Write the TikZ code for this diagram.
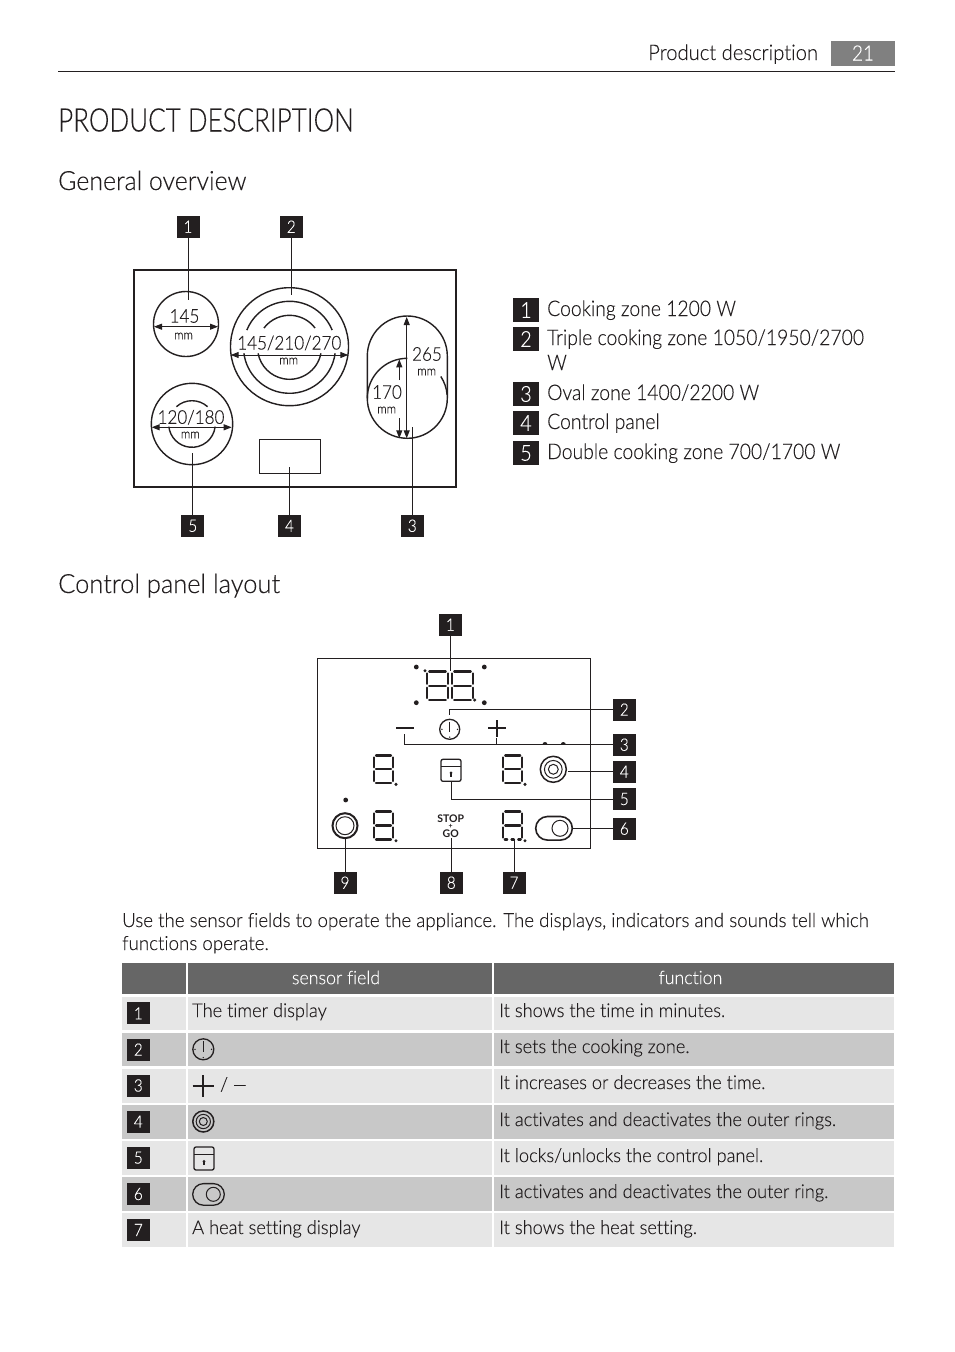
\documentclass[tikz,border=0pt]{standalone}
\usepackage{fontspec}
\setmainfont{Lato}[UprightFont={* Light},BoldFont={* Bold},Ligatures=NoCommon]
\usetikzlibrary{arrows.meta}
\definecolor{ink}{HTML}{231F20}
\definecolor{headgray}{HTML}{666666}
\definecolor{rowlight}{HTML}{E6E6E6}
\definecolor{rowdark}{HTML}{C8C8C8}
\definecolor{pagegray}{HTML}{808080}
\newcommand\fs[1]{\fontsize{#1}{#1}\selectfont}
\newfontfamily\fa{Lato}[UprightFont={* Light},Ligatures=NoCommon,FakeStretch=0.80,FakeBold=0.2]
\newfontfamily\fb{Lato}[UprightFont={* Light},Ligatures=NoCommon,FakeStretch=0.90,FakeBold=0.2]
\newfontfamily\fc{Lato}[UprightFont={* Light},Ligatures=NoCommon,FakeStretch=0.94,FakeBold=0.2]
\newfontfamily\fd{Lato}[UprightFont={* Light},Ligatures=NoCommon,FakeStretch=0.96,FakeBold=0.2]
\tikzset{
  txt/.style={inner sep=0pt,anchor=base west,text=ink},
  ctr/.style={inner sep=0pt,anchor=center,text=ink},
  badge/.style={fill=ink,text=white,inner sep=0pt,minimum width=23pt,minimum height=22pt,font=\fb\fs{17}},
  lbadge/.style={fill=ink,text=white,inner sep=0pt,minimum width=26pt,minimum height=24pt,font=\fb\fs{22}},
  callout/.style={draw=ink,line width=1pt},
  outline/.style={draw=ink,line width=1.4pt},
  thinline/.style={draw=ink,line width=0.9pt},
  dimarrow/.style={draw=ink,line width=1pt,{Triangle[length=8pt,width=6pt]}-{Triangle[length=8pt,width=6pt]}},
  dimone/.style={draw=ink,line width=1pt,-{Triangle[length=8pt,width=6pt]}},
  segline/.style={draw=ink,line width=2.2pt,line cap=round},
}
\newcommand\zarc[5]{\draw[outline] ({#1+#3*cos(#4)},{#2+#3*sin(#4)}) arc[start angle=#4,end angle=#5,radius=#3];}
\newcommand\digit[4]{%
  \path[segline] (#1+2,#2)--(#1+#3-2,#2) (#1,#2+2)--(#1,#2+#4/2-2) (#1+#3,#2+2)--(#1+#3,#2+#4/2-2)
   (#1+2,#2+#4/2)--(#1+#3-2,#2+#4/2) (#1,#2+#4/2+2)--(#1,#2+#4-2) (#1+#3,#2+#4/2+2)--(#1+#3,#2+#4-2)
   (#1+2,#2+#4)--(#1+#3-2,#2+#4);}
\newcommand\digitdash[4]{%
  \path[segline] (#1+2,#2)--(#1+#3-2,#2) (#1,#2+2)--(#1,#2+#4/2-2) (#1+#3,#2+2)--(#1+#3,#2+#4/2-2)
   (#1+2,#2+#4/2)--(#1+#3-2,#2+#4/2) (#1,#2+#4/2+2)--(#1,#2+#4-2) (#1+#3,#2+#4/2+2)--(#1+#3,#2+#4-2)
   (#1+1.5,#2+#4)--(#1+4,#2+#4) (#1+#3/2-1.2,#2+#4)--(#1+#3/2+1.2,#2+#4) (#1+#3-4,#2+#4)--(#1+#3-1.5,#2+#4);}
\newcommand\dotat[3]{\fill[ink] (#1,#2) circle[radius=#3];}
\newcommand\clockicon[3]{%
  \draw[ink,line width=1.3pt] (#1,#2) circle[radius=#3];
  \draw[ink,line width=1pt] (#1,#2-#3+2.5)--(#1,#2+2.5);
  \fill[ink] (#1-#3+2.2,#2) circle[radius=.8] (#1+#3-2.2,#2) circle[radius=.8] (#1,#2+#3-2.2) circle[radius=.8];}
\newcommand\ringsicon[3]{%
  \draw[ink,line width=1.5pt] (#1,#2) circle[radius=#3];
  \draw[ink,line width=1pt] (#1,#2) circle[radius=#3*.68];
  \draw[ink,line width=1pt] (#1,#2) circle[radius=#3*.38];}
\newcommand\lockicon[4]{%
  \draw[ink,line width=1.3pt,rounded corners=2pt] (#1,#2) rectangle (#1+#3,#2+#4);
  \draw[ink,line width=1.3pt] (#1,#2+.33*#4)--(#1+#3,#2+.33*#4);
  \fill[ink] (#1+#3/2,#2+.62*#4) circle[radius=1.5];
  \draw[ink,line width=1.2pt] (#1+#3/2,#2+.62*#4)--(#1+#3/2,#2+.80*#4);}
\begin{document}
\begin{tikzpicture}[x=1pt,y=-1pt]
\useasboundingbox (0,0) rectangle (954,1352);
\fill[white] (0,0) rectangle (954,1352);

% header
\node[txt] (hdr) at (648,60) {\fc\fs{21.5}Product description};
\fill[pagegray] (831,41) rectangle (895,66);
\node[ctr,text=white] (pagenum) at (863,53) {\fb\fs{21}21};
\coordinate (ruleL) at (58,71); \coordinate (ruleR) at (895,71);
\draw[ink,line width=1pt] (ruleL)--(ruleR);
\node[txt] (title) at (58,131.5) {\fa\fs{32.5}PRODUCT DESCRIPTION};
\node[txt] (h1) at (58,190) {\fc\fs{26.5}General overview};
\node[txt] (h2) at (58,593) {\fd\fs{26.5}Control panel layout};

% ===== hob =====
\draw[ink,line width=1.8pt] (134,270) rectangle (456,487);
\draw[outline] (186,324) circle[radius=32.5];
\draw[outline] (289.5,346.7) circle[radius=59];
\zarc{289.5}{347.3}{46}{202}{338}
\zarc{289.5}{347.3}{46}{7.5}{172.5}
\zarc{289.5}{347.3}{32}{217}{323}
\zarc{289.5}{347.3}{32}{11}{169}
\draw[outline] (192,424) circle[radius=40.7];
\zarc{192}{424}{23.3}{228}{312}
\zarc{192}{424}{23.3}{6.5}{173.5}
\draw[outline] (367.3,356) arc[start angle=180,end angle=360,radius=40] -- (447.3,398.3) arc[start angle=0,end angle=180,radius=40] -- cycle;
\zarc{407.3}{398.3}{40}{180}{270}
\zarc{407.3}{398.3}{40}{327}{355}
\draw[thinline] (259.3,439.3) rectangle (320.7,473.3);

\coordinate (a1l) at (154,326.7); \coordinate (a1r) at (218,326.7);
\draw[dimarrow] (a1l)--(a1r);
\coordinate (a2l) at (230.7,355); \coordinate (a2r) at (348.3,355);
\draw[dimarrow] (a2l)--(a2r);
\coordinate (a5l) at (151.7,427.3); \coordinate (a5r) at (231.7,427.3);
\draw[dimarrow] (a5l)--(a5r);
\coordinate (a3t) at (406.7,317); \coordinate (a3b) at (406.7,438.3);
\draw[dimarrow] (a3t)--(a3b);
\coordinate (a4t) at (399.3,380); \coordinate (a4tt) at (399.3,359.3);
\coordinate (a4b) at (399.3,418.3); \coordinate (a4bb) at (399.3,438.3);
\draw[dimone] (a4t)--(a4tt);
\draw[dimone] (a4b)--(a4bb);

\node[ctr] (d145) at (184.5,316) {\fb\fs{19}145};
\node[ctr] (m145) at (183.5,336) {\fb\fs{13}mm};
\node[ctr] (d270) at (289.3,343) {\fb\fs{19}145/210/270};
\node[ctr] (m270) at (288.7,361) {\fb\fs{13}mm};
\node[ctr] (d180) at (191,417.3) {\fb\fs{19}120/180};
\node[ctr] (m180) at (190.3,435) {\fb\fs{13}mm};
\node[ctr] (d265) at (427,354) {\fb\fs{19}265};
\node[ctr] (m265) at (426.7,372) {\fb\fs{13}mm};
\node[ctr] (d170) at (387,392) {\fb\fs{19}170};
\node[ctr] (m170) at (386.7,410) {\fb\fs{13}mm};

\node[badge] (g1) at (188,226.7) {1};
\node[badge] (g2) at (291.3,226.7) {2};
\node[badge] (g5) at (192.8,525.8) {5};
\node[badge] (g4) at (289.5,525.8) {4};
\node[badge] (g3) at (412.3,525.8) {3};
\coordinate (g1e) at (188,300); \draw[callout] (g1)--(g1e);
\coordinate (g2e) at (291.3,295); \draw[callout] (g2)--(g2e);
\coordinate (g5e) at (192.8,453.3); \draw[callout] (g5)--(g5e);
\coordinate (g4e) at (289.5,466.7); \draw[callout] (g4)--(g4e);
\coordinate (g3e) at (412.3,427.3); \draw[callout] (g3)--(g3e);

% legend
\node[lbadge] (l1) at (526,310) {1};
\node[lbadge] (l2) at (526,339) {2};
\node[lbadge] (l3) at (526,394) {3};
\node[lbadge] (l4) at (526,423) {4};
\node[lbadge] (l5) at (526,453) {5};
\node[txt] (lt1) at (547,316) {\fb\fs{21.5}Cooking zone 1200 W};
\node[txt] (lt2) at (547,345) {\fb\fs{21.5}Triple cooking zone 1050/1950/2700};
\node[txt] (lt2b) at (547,370) {\fb\fs{21.5}W};
\node[txt] (lt3) at (547,400) {\fb\fs{21.5}Oval zone 1400/2200 W};
\node[txt] (lt4) at (547,429) {\fb\fs{21.5}Control panel};
\node[txt] (lt5) at (547,459) {\fb\fs{21.5}Double cooking zone 700/1700 W};

% ===== control panel =====
\draw[ink,line width=1pt] (317.3,658.3) rectangle (590.3,848.3);
\digit{427.2}{671.5}{20.6}{28.5}
\digit{452.2}{671.5}{20.6}{28.5}
\digit{374}{755.5}{19}{27.5}
\digit{503.2}{755.5}{19}{27.5}
\digit{374}{811.5}{19}{28}
\digitdash{503.2}{811.5}{19}{28}
\dotat{416.3}{667}{2.4}\dotat{484.3}{667}{2.4}\dotat{416.3}{702.7}{2.4}\dotat{484.3}{702.7}{2.4}
\dotat{425}{670.7}{1.7}\dotat{474.7}{700}{1.7}
\dotat{396}{784.3}{1.7}\dotat{525}{784.3}{1.7}\dotat{396}{840.7}{1.7}\dotat{525}{840.7}{1.7}
\dotat{345.7}{800}{2.4}
\fill[ink] (542.5,744.5) arc[start angle=180,end angle=360,radius=2.5] -- cycle;
\fill[ink] (560.8,744.5) arc[start angle=180,end angle=360,radius=2.5] -- cycle;
\draw[ink,line width=1.7pt] (396,727.7)--(414,727.7);
\draw[ink,line width=1.7pt] (488,728)--(506,728);
\draw[ink,line width=1.7pt] (497,720)--(497,737);
\clockicon{449.7}{729.3}{10}
\lockicon{441}{759.3}{20}{22}
\ringsicon{553.3}{769.3}{13}
\draw[ink,line width=2pt] (345,825.7) circle[radius=12.5];
\draw[ink,line width=1pt] (345,825.7) circle[radius=9];
\draw[ink,line width=1.6pt] (547.5,816.5) -- (560.5,816.5) arc[start angle=270,end angle=450,radius=11.8] -- (547.5,840.1) arc[start angle=90,end angle=270,radius=11.8] -- cycle;
\draw[ink,line width=1pt] (560,828.3) circle[radius=8];
\node[ctr,font=\fs{10.5}\bfseries] (stop) at (450.7,818.5) {STOP};
\node[ctr,font=\fs{7}\bfseries] (plus) at (450.7,826.2) {+};
\node[ctr,font=\fs{10.5}\bfseries] (go) at (450.7,833.7) {GO};

\node[badge] (p1) at (450.3,624.7) {1};
\node[badge] (p2) at (624.3,709.6) {2};
\node[badge] (p3) at (624.3,744.7) {3};
\node[badge] (p4) at (624.3,771.7) {4};
\node[badge] (p5) at (624.3,799) {5};
\node[badge] (p6) at (624.3,828.7) {6};
\node[badge] (p9) at (345,882.7) {9};
\node[badge] (p8) at (451.3,882.7) {8};
\node[badge] (p7) at (514,882.7) {7};
\coordinate (p1e) at (450.3,671); \draw[callout] (p1)--(p1e);
\coordinate (p2e) at (449.3,715); \draw[callout] (p2.west)-|(p2e);
\coordinate (p3e) at (404.8,734); \draw[callout] (p3.west)-|(p3e);
\coordinate (p3f) at (496.8,738); \coordinate (p3j) at (496.8,744.7); \draw[callout] (p3j)--(p3f);
\coordinate (p4e) at (568.3,771.7); \draw[callout] (p4)--(p4e);
\coordinate (p5e) at (451.3,780.5); \draw[callout] (p5.west)-|(p5e);
\coordinate (p6e) at (571.7,828.7); \draw[callout] (p6)--(p6e);
\coordinate (p9e) at (345,837); \draw[callout] (p9)--(p9e);
\coordinate (p8e) at (451.3,837.5); \draw[callout] (p8)--(p8e);
\coordinate (p7e) at (514,840); \draw[callout] (p7)--(p7e);

% paragraph
\node[txt] (para1) at (122,927) {\fd\fs{19.5}Use the sensor fields to operate the appliance. The displays, indicators and sounds tell which};
\node[txt] (para2) at (122,950) {\fd\fs{19.5}functions operate.};

% ===== table =====
\fill[headgray] (122,963.3) rectangle (186,994);
\fill[headgray] (188,963.3) rectangle (492,994);
\fill[headgray] (494,963.3) rectangle (894,994);
\node[ctr,text=white] (th1) at (336,977.5) {\fd\fs{18.5}sensor field};
\node[ctr,text=white] (th2) at (690.5,977.5) {\fd\fs{18.5}function};
\foreach \ya/\yb/\col in {996.7/1030/rowlight,1032.7/1066/rowdark,1068.7/1102.7/rowlight,1105/1139/rowdark,1141/1175/rowlight,1177/1211/rowdark,1213/1247/rowlight}{
  \fill[\col] (122,\ya) rectangle (186,\yb);
  \fill[\col] (188,\ya) rectangle (492,\yb);
  \fill[\col] (494,\ya) rectangle (894,\yb);
}
\node[badge] (t1) at (138.3,1013.3) {1};
\node[badge] (t2) at (138.3,1049.6) {2};
\node[badge] (t3) at (138.3,1085.5) {3};
\node[badge] (t4) at (138.3,1121.6) {4};
\node[badge] (t5) at (138.3,1157.6) {5};
\node[badge] (t6) at (138.3,1194) {6};
\node[badge] (t7) at (138.3,1230) {7};
\node[txt] (c1) at (192,1017) {\fd\fs{19}The timer display};
\node[txt] (c7) at (192,1234) {\fd\fs{19}A heat setting display};
\clockicon{203.3}{1049.3}{10.5}
\draw[ink,line width=1.7pt] (192.7,1086)--(214,1086);
\draw[ink,line width=1.7pt] (203.3,1075)--(203.3,1097);
\node[txt] (c3) at (220,1091) {\fc\fs{19}/ —};
\ringsicon{203.3}{1121.5}{10.5}
\lockicon{194}{1147}{20}{23}
\draw[ink,line width=1.3pt] (203.5,1183.6) -- (213.5,1183.6) arc[start angle=270,end angle=450,radius=10.8] -- (203.5,1205.2) arc[start angle=90,end angle=270,radius=10.8] -- cycle;
\draw[ink,line width=1pt] (213.3,1194.3) circle[radius=7];
\node[txt] (f1) at (499,1017) {\fd\fs{19}It shows the time in minutes.};
\node[txt] (f2) at (499,1053) {\fd\fs{19}It sets the cooking zone.};
\node[txt] (f3) at (499,1089) {\fd\fs{19}It increases or decreases the time.};
\node[txt] (f4) at (499,1126) {\fd\fs{19}It activates and deactivates the outer rings.};
\node[txt] (f5) at (499,1162) {\fd\fs{19}It locks/unlocks the control panel.};
\node[txt] (f6) at (499,1198) {\fd\fs{19}It activates and deactivates the outer ring.};
\node[txt] (f7) at (499,1234) {\fd\fs{19}It shows the heat setting.};
\end{tikzpicture}
\end{document}
